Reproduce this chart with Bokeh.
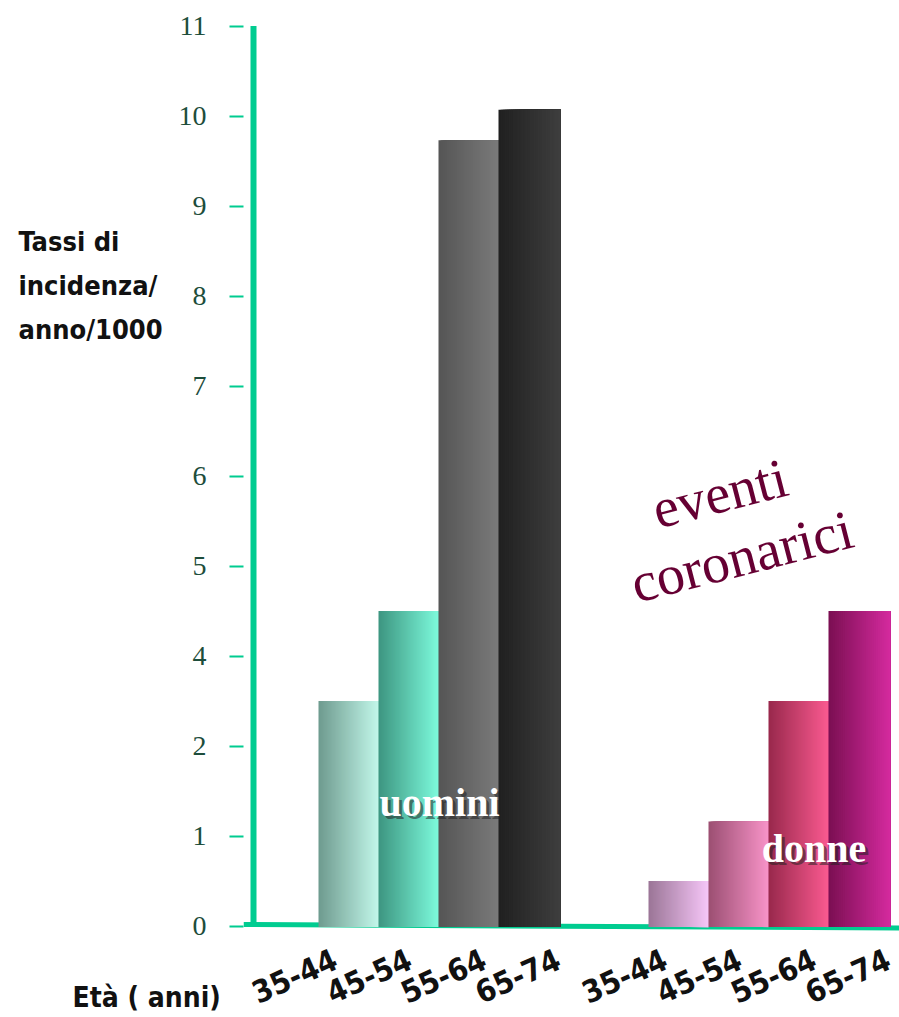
import numpy as np
from bokeh.plotting import figure
from bokeh.layouts import row, column
from bokeh.models import Range1d, FixedTicker
from bokeh.core.properties import value
from bokeh.embed import file_html
from bokeh.resources import INLINE

# ---- data -------------------------------------------------------------
age_groups = ["35-44", "45-54", "55-64", "65-74"]
men_rates = [3.0, 4.5, 9.73, 10.07]      # incidence / year / 1000
women_rates = [0.5, 1.16, 3.0, 4.5]
tick_labels = ["0", "1", "2", "4", "5", "6", "7", "8", "9", "10", "11"]

men_colors = [("#6e9a8e", "#c2f7ea"), ("#3d9580", "#7dfadc"),
              ("#555555", "#7a7a7a"), ("#202020", "#3e3e3e")]
women_colors = [("#9a7596", "#f6c6f8"), ("#9b4f72", "#f893c8"),
                ("#98284c", "#fa5a90"), ("#7a0f52", "#d52a9e")]

# ---- styling ----------------------------------------------------------
GREEN = "#00cc90"
TICK_TEXT = "#1d4d3b"
CONDENSED = "'DejaVu Sans Condensed', 'Roboto Condensed', Roboto, sans-serif"
SERIF = "Liberation Serif"

W, H = 899, 1017
LEFT_W = 175          # strip holding the vertical-axis title
AXIS_W = 68           # room for the y axis ticks and labels
TOP_H = 942           # chart area; the age labels live below it
PX_X = 60.0           # pixels per bar width
PX_Y = 90.0           # pixels per axis step
ZERO_Y = 925.5        # pixel row of the zero line
frame_w = W - LEFT_W - AXIS_W

# tick labels sit on evenly spaced steps; values are placed on that scale
tick_values = [float(t) for t in tick_labels]
tick_steps = list(range(len(tick_labels)))


def to_step(v):
    return float(np.interp(v, tick_values, tick_steps))


def mix(c0, c1, t):
    a = [int(c0[i:i + 2], 16) for i in (1, 3, 5)]
    b = [int(c1[i:i + 2], 16) for i in (1, 3, 5)]
    return "#" + "".join(f"{round(x + (y - x) * t):02x}" for x, y in zip(a, b))


def lift(size, angle_deg=0.0):
    """Screen offset that puts the alphabetic baseline on the anchor point."""
    a = np.deg2rad(angle_deg)
    d = 0.41 * size
    return -d * np.sin(a), -d * np.cos(a)


def blank(width, height, x_range, y_range):
    f = figure(width=width, height=height, x_range=x_range, y_range=y_range,
               x_axis_location=None, y_axis_location=None,
               output_backend="svg", toolbar_location=None,
               min_border_left=0, min_border_right=0,
               min_border_top=0, min_border_bottom=0,
               outline_line_color=None,
               background_fill_color="white", border_fill_color="white")
    f.grid.visible = False
    return f


# ---- main chart -------------------------------------------------------
p = figure(width=W - LEFT_W, height=TOP_H,
           x_range=Range1d(0, frame_w / PX_X),
           y_range=Range1d(-(TOP_H - ZERO_Y) / PX_Y, ZERO_Y / PX_Y),
           x_axis_location=None,
           output_backend="svg", toolbar_location=None,
           min_border_left=AXIS_W, min_border_right=0,
           min_border_top=0, min_border_bottom=0,
           outline_line_color=None,
           background_fill_color="white", border_fill_color="white")
p.grid.visible = False

yax = p.yaxis[0]
yax.ticker = FixedTicker(ticks=tick_steps)
yax.major_label_overrides = {i: t for i, t in zip(tick_steps, tick_labels)}
yax.axis_line_color = None
yax.major_tick_in = 0
yax.major_tick_out = 14
yax.major_tick_line_color = GREEN
yax.major_tick_line_width = 2
yax.minor_tick_line_color = None
yax.major_label_text_font = SERIF
yax.major_label_text_font_size = "28px"
yax.major_label_text_color = TICK_TEXT
yax.major_label_standoff = 23

# baseline under the bars
p.segment(x0=[0], y0=[1.5 / PX_Y], x1=[frame_w / PX_X], y1=[-2.0 / PX_Y],
          line_color=GREEN, line_width=5)

# bars with a left-to-right gradient built from overlapping strips
N_STRIPS = 30
group_starts = [75 / PX_X, 405 / PX_X]
lefts, rights, tops, bottoms, fills = [], [], [], [], []
for start, rates, colors in zip(group_starts, [men_rates, women_rates],
                                [men_colors, women_colors]):
    for i, (rate, (c0, c1)) in enumerate(zip(rates, colors)):
        L = start + i
        R = L + 1 + (0.03 if i == len(rates) - 1 else 0)
        top = to_step(rate)
        for k in range(N_STRIPS):
            lefts.append(L + (R - L) * k / N_STRIPS)
            rights.append(R)
            tops.append(top)
            bottoms.append(-0.012)
            fills.append(mix(c0, c1, (k + 0.5) / N_STRIPS))
p.quad(left=lefts, right=rights, top=tops, bottom=bottoms,
       fill_color=fills, line_color=None)

# vertical axis line
p.segment(x0=[10 / PX_X], y0=[0], x1=[10 / PX_X], y1=[tick_steps[-1]],
          line_color=GREEN, line_width=6)

# group names with a soft shadow
gx_off, gy_off = lift(40)
for name, gx, gy in [("uomini", 196 / PX_X, 107.5 / PX_Y),
                     ("donne", 570.5 / PX_X, 61.5 / PX_Y)]:
    p.text(x=[gx], y=[gy], text=[name], x_offset=gx_off + 3, y_offset=gy_off + 3,
           text_align="center", text_baseline="alphabetic",
           text_font=value(SERIF), text_font_style="bold",
           text_font_size=value("40px"), text_color="#222222", text_alpha=0.55)
    p.text(x=[gx], y=[gy], text=[name], x_offset=gx_off, y_offset=gy_off,
           text_align="center", text_baseline="alphabetic",
           text_font=value(SERIF), text_font_style="bold",
           text_font_size=value("40px"), text_color="white")

# slanted caption
cx_off, cy_off = lift(56, 14.5)
p.text(x=[482 / PX_X, 504 / PX_X], y=[410.5 / PX_Y, 347.5 / PX_Y],
       text=["eventi", "coronarici"], angle=np.deg2rad(14.5),
       x_offset=cx_off, y_offset=cy_off,
       text_align="center", text_baseline="alphabetic",
       text_font=value(SERIF), text_font_size=value("56px"),
       text_color="#660033")

# ---- vertical-axis title strip (pixel coordinates, y downwards) -------
side = blank(LEFT_W, TOP_H, Range1d(0, LEFT_W), Range1d(TOP_H, 0))
sx_off, sy_off = lift(27)
side.text(x=[18, 18, 18], y=[252, 296, 340],
          text=["Tassi di", "incidenza/", "anno/1000"],
          x_offset=sx_off, y_offset=sy_off,
          text_align="left", text_baseline="alphabetic",
          text_font=value(CONDENSED), text_font_style="bold",
          text_font_size=value("27px"), text_color="#111111")

# ---- age labels strip, sharing the bar scale horizontally -------------
x0_units = -(LEFT_W + AXIS_W) / PX_X
bottom = blank(W, H - TOP_H, Range1d(x0_units, x0_units + W / PX_X),
               Range1d(H, TOP_H))
lab_x, lab_t = [], []
for start in group_starts:
    for i, g in enumerate(age_groups):
        lab_x.append(start + 0.367 + 1.24 * i)
        lab_t.append(g)
lx_off, ly_off = lift(31, 24)
bottom.text(x=lab_x, y=[969] * len(lab_x), text=lab_t,
            x_offset=lx_off, y_offset=ly_off,
            angle=np.deg2rad(24), text_align="right", text_baseline="alphabetic",
            text_font=value(CONDENSED), text_font_style="bold",
            text_font_size=value("31px"), text_color="#111111")
ex_off, ey_off = lift(28)
bottom.text(x=[x0_units + 72 / PX_X], y=[1008], text=["Età ( anni)"],
            x_offset=ex_off, y_offset=ey_off,
            text_align="left", text_baseline="alphabetic",
            text_font=value(CONDENSED), text_font_style="bold",
            text_font_size=value("28px"), text_color="#111111")

layout = column(row(side, p, spacing=0), bottom, spacing=0)
open("out.html", "w").write(file_html(layout, INLINE))
